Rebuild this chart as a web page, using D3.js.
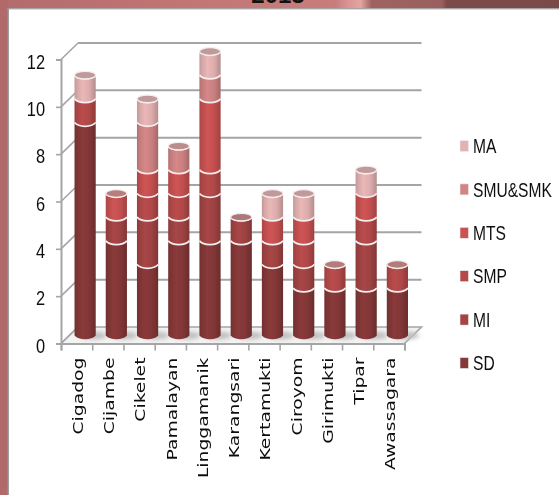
<!DOCTYPE html>
<html><head><meta charset="utf-8">
<script src="https://cdn.jsdelivr.net/npm/d3@7"></script>
<style>html,body{margin:0;padding:0;background:#fff}svg{display:block}</style>
</head><body><svg id="c" width="559" height="495"></svg>
<script>
const categories=["Cigadog","Cijambe","Cikelet","Pamalayan","Linggamanik","Karangsari","Kertamukti","Ciroyom","Girimukti","Tipar","Awassagara"];
const seriesNames=["SD","MI","SMP","MTS","SMU&SMK","MA"];
const SD =[9,4,3,4,4,4,3,2,2,2,2];
const MI =[0,1,2,1,2,1,1,1,0,2,0];
const SMP=[1,0,1,1,1,0,0,1,1,1,1];
const MTS=[0,1,1,1,3,0,1,1,0,1,0];
const SMU=[0,0,2,1,1,0,0,0,0,0,0];
const MA =[1,0,1,0,1,0,1,1,0,1,0];
const seriesValues=[SD,MI,SMP,MTS,SMU,MA];
const colors=["#863838","#a34444","#b54a4a","#c95252","#d08484","#e4b2b2"];
const yTicks=[0,2,4,6,8,10,12];
const title="2013";

const W=559,H=495,dx=17,dy=-16.5;
const svg=d3.select("#c"),defs=svg.append("defs");
const soft=defs.append("filter").attr("id","soft").attr("x","-5%").attr("y","-5%").attr("width","110%").attr("height","110%");
soft.append("feGaussianBlur").attr("stdDeviation",0.5);
const blur=defs.append("filter").attr("id","blur").attr("x","-50%").attr("y","-100%").attr("width","200%").attr("height","300%");
blur.append("feGaussianBlur").attr("stdDeviation",2.2);

// page frame
const band=defs.append("linearGradient").attr("id","band");
[[0,"#b36b6b"],[.35,"#c27676"],[.6,"#c87c7c"],[.62,"#d99292"],[.645,"#e3a5a0"],[.665,"#9f6262"],[.79,"#9a5f5f"],[.80,"#7c4a4a"],[1,"#7a4a4a"]]
 .forEach(s=>band.append("stop").attr("offset",s[0]).attr("stop-color",s[1]));
svg.append("rect").attr("width",W).attr("height",9).attr("fill","url(#band)");
svg.append("rect").attr("width",8).attr("height",H).attr("fill","#b06a6a");
svg.append("rect").attr("x",7.5).attr("y",8).attr("width",W).attr("height",1.4).attr("fill","#a9a3a3");
svg.append("rect").attr("x",7.5).attr("y",8).attr("width",1.4).attr("height",H).attr("fill","#9a9494");
svg.append("text").text(title).attr("x",278).attr("y",3).attr("text-anchor","middle")
  .attr("font-family","Liberation Sans").attr("font-weight","bold").attr("font-size",24).attr("fill","#111");

const y=d3.scaleLinear().domain([0,12]).range([343.5,59.5]);
const x=d3.scaleBand().domain(categories).range([61,404.5]);
const xEdge=d3.scaleLinear().domain([0,categories.length]).range([61,404.5]);
const root=svg.append("g").attr("filter","url(#soft)");
const grey="#a5a5a5";

// floor
root.append("path").attr("d",d3.line()([[x.range()[0],y(0)],[x.range()[0]+dx,y(0)+dy],[x.range()[1]+dx,y(0)+dy],[x.range()[1],y(0)]]))
  .attr("fill","#f3f3f3").attr("stroke",grey).attr("stroke-width",1.6);
// gridlines on the back wall and diagonals on the left wall
root.append("g").selectAll("line").data(yTicks.slice(1)).join("line")
  .attr("x1",61+dx).attr("x2",x.range()[1]+dx).attr("y1",d=>y(d)+dy).attr("y2",d=>y(d)+dy)
  .attr("stroke",grey).attr("stroke-width",2);
root.append("g").selectAll("line").data(yTicks).join("line")
  .attr("x1",61).attr("x2",61+dx).attr("y1",d=>y(d)).attr("y2",d=>y(d)+dy)
  .attr("stroke",grey).attr("stroke-width",1.6);

// axes
const yAxis=root.append("g").attr("transform","translate(61,0)")
  .call(d3.axisLeft(y).tickValues(yTicks).tickSize(5).tickPadding(9));
yAxis.selectAll("text").attr("x",0).attr("transform","translate(-16,0) scale(.8,1)")
  .attr("font-family","Liberation Sans").attr("font-size",20.5).attr("fill","#111").attr("dy","0.42em");
const xTickAxis=root.append("g").attr("transform",`translate(0,${y(0)})`)
  .call(d3.axisBottom(xEdge).ticks(categories.length).tickSize(7).tickFormat(""));
[yAxis,xTickAxis].forEach(a=>{a.selectAll("path").attr("stroke",grey).attr("stroke-width",2);a.selectAll("line").attr("stroke",grey).attr("stroke-width",1.6);});
const xLab=root.append("g").attr("transform",`translate(0,${y(0)})`).call(d3.axisBottom(x).tickSize(0));
xLab.select("path").remove();
xLab.selectAll("text").attr("transform","translate(1.5,14) rotate(-90) scale(1.34,1)").attr("x",0).attr("y",0).attr("dy","0.35em")
  .attr("text-anchor","end").attr("font-family","DejaVu Sans").attr("font-size",14).attr("fill","#111");

// stacked cylinders
const rows=categories.map((c,i)=>{const o={cat:c};seriesNames.forEach((s,k)=>o[s]=seriesValues[k][i]);return o;});
const stacked=d3.stack().keys(seriesNames)(rows);
colors.forEach((c,i)=>{
  const g=defs.append("linearGradient").attr("id","g"+i);
  const col=d3.color(c);
  [[0,col.darker(.45)],[.12,col.darker(.2)],[.38,col.brighter(.08)],[.7,col.darker(.1)],[.92,col.darker(.5)],[1,col.darker(.65)]]
    .forEach(s=>g.append("stop").attr("offset",s[0]).attr("stop-color",s[1]+""));
});
const rx=10.6,ry=3.8,ox=8.5,oy=-8;
const cx=c=>x(c)+x.bandwidth()/2+ox;
// floor shadows
root.append("g").selectAll("ellipse").data(categories).join("ellipse")
  .attr("cx",d=>cx(d)+8).attr("cy",y(0)+oy).attr("rx",rx+3).attr("ry",ry)
  .attr("fill","#bdbdbd").attr("filter","url(#blur)");
const bars=root.append("g");
categories.forEach((cat,ci)=>{
  const g=bars.append("g"),X=cx(cat);
  let topCol=null,topY=null;
  stacked.forEach((s,si)=>{
    const d=s[ci];
    if(d[1]-d[0]<=0)return;
    const y0=y(d[0])+oy,y1=y(d[1])+oy;
    const p=d3.path();
    p.moveTo(X-rx,y1);p.lineTo(X-rx,y0);
    p.bezierCurveTo(X-rx*.6,y0+ry*1.33,X+rx*.6,y0+ry*1.33,X+rx,y0);
    p.lineTo(X+rx,y1);
    p.bezierCurveTo(X+rx*.6,y1+ry*1.33,X-rx*.6,y1+ry*1.33,X-rx,y1);p.closePath();
    g.append("path").attr("d",p.toString()).attr("fill",`url(#g${si})`);
    topCol=si;topY=y1;
  });
  stacked.forEach((s,si)=>{
    const d=s[ci];
    if(d[1]-d[0]<=0)return;
    const y1=y(d[1])+oy;
    const a=d3.path();a.moveTo(X-rx,y1);a.bezierCurveTo(X-rx*.6,y1+ry*1.33,X+rx*.6,y1+ry*1.33,X+rx,y1);
    g.append("path").attr("d",a.toString()).attr("fill","none").attr("stroke","#f6eeee").attr("stroke-width",1.7);
  });
  g.append("ellipse").attr("cx",X).attr("cy",topY).attr("rx",rx).attr("ry",ry)
    .attr("fill",d3.interpolateRgb(colors[topCol],"#b09090")(.7)).attr("stroke","#f6eeee").attr("stroke-width",1.3);
});

// legend
const legendY=d3.scalePoint().domain([...seriesNames].reverse()).range([146,363]);
const lg=root.append("g").selectAll("g").data(seriesNames).join("g").attr("transform",d=>`translate(460,${legendY(d)})`);
lg.append("rect").attr("x",0).attr("y",-5.5).attr("width",8.5).attr("height",11)
  .attr("fill",(d,i)=>colors[i]).attr("stroke","#eee").attr("stroke-width",.6);
lg.append("text").text(d=>d).attr("transform","translate(13,0) scale(.8,1)").attr("dy","0.37em")
  .attr("font-family","Liberation Sans").attr("font-size",19.5).attr("fill","#111");
</script></body></html>
